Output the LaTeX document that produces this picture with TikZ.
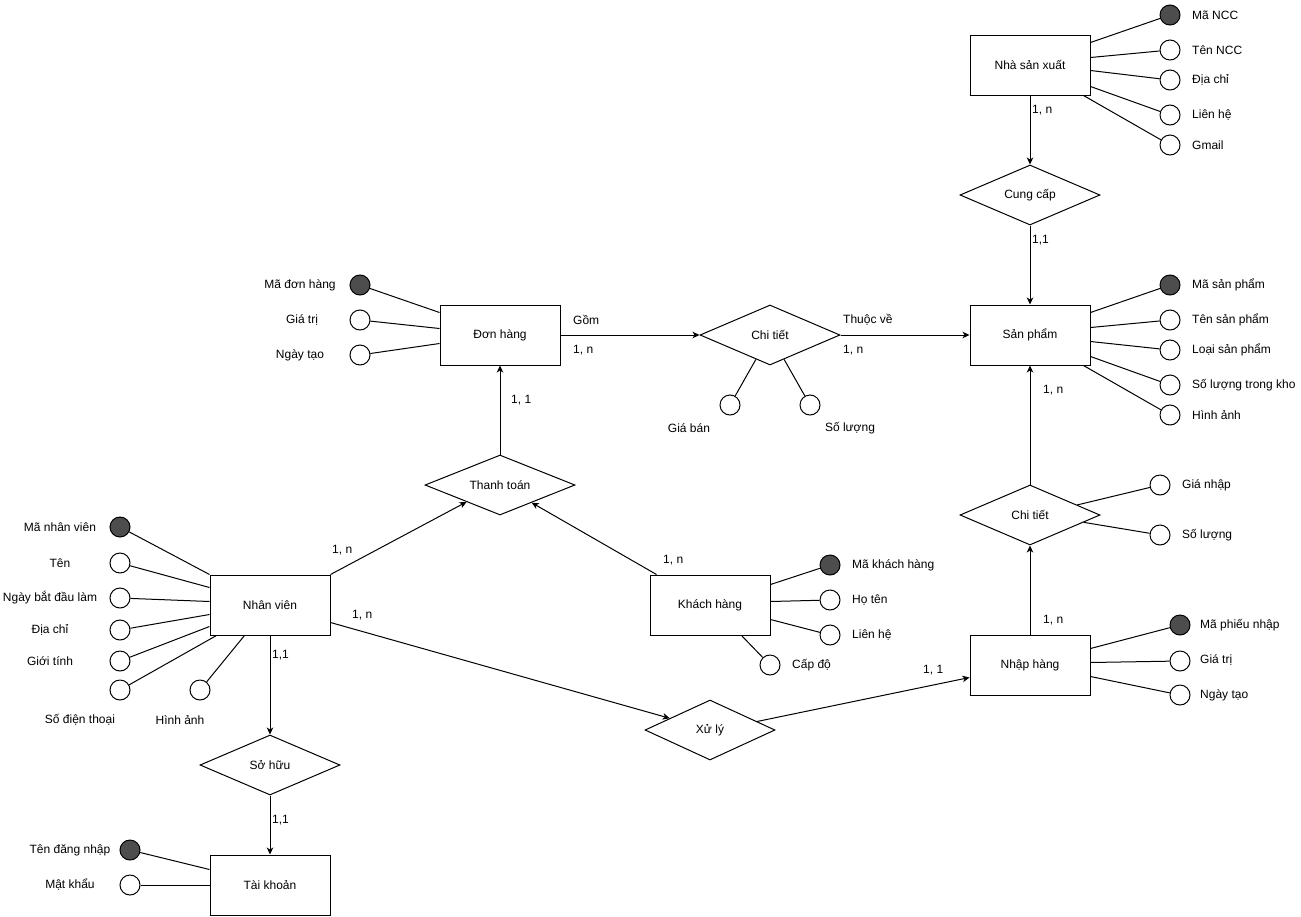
\documentclass[tikz,border=0pt]{standalone}
\usepackage{fontspec}
\setmainfont{Liberation Sans}
\usetikzlibrary{shapes.geometric,arrows.meta,calc}
\definecolor{keyfill}{HTML}{4D4D4D}
\tikzset{
  txt/.style={font=\fontsize{12}{14}\selectfont},
  entity/.style={txt, draw, line width=1pt, fill=white, minimum width=120pt, minimum height=60pt, inner sep=0pt},
  rel/.style={txt, draw, diamond, shape aspect=2.33, line width=1pt, fill=white, minimum width=140pt, minimum height=60pt, inner sep=0pt},
  attr/.style={circle, draw, line width=1pt, fill=white, minimum size=20pt, inner sep=0pt},
  keyattr/.style={attr, fill=keyfill},
  lbl/.style={txt, inner sep=0pt, anchor=west},
  lblc/.style={txt, inner sep=0pt},
  link/.style={line width=1pt},
  rarrow/.style={line width=1pt, -{Stealth[length=7pt,width=6.5pt,inset=2pt]}}
}
\begin{document}
\begin{tikzpicture}[x=1pt,y=-1pt]
\useasboundingbox (0,0) rectangle (1301,916);

% entities
\node[entity] (nsx) at (1030,65) {Nhà sản xuất};
\node[entity] (sp) at (1030,335) {Sản phẩm};
\node[entity] (nh) at (1030,665) {Nhập hàng};
\node[entity] (dh) at (500,335) {Đơn hàng};
\node[entity] (nv) at (270,605) {Nhân viên};
\node[entity] (kh) at (710,605) {Khách hàng};
\node[entity] (tk) at (270,885) {Tài khoản};

% relationships
\node[rel] (cc) at (1030,195) {Cung cấp};
\node[rel] (ct1) at (770,335) {Chi tiết};
\node[rel] (ct2) at (1030,515) {Chi tiết};
\node[rel, minimum width=150pt, shape aspect=2.5] (tt) at (500,485) {Thanh toán};
\node[rel, minimum width=130pt, shape aspect=2.17] (xl) at (710,730) {Xử lý};
\node[rel] (sh) at (270,765) {Sở hữu};

% Nha san xuat attributes
\node[keyattr] (mancc) at (1170,15) {};
\node[attr] (tenncc) at (1170,50) {};
\node[attr] (dcncc) at (1170,80) {};
\node[attr] (lhncc) at (1170,115) {};
\node[attr] (gmail) at (1170,145) {};
\node[lbl] (lmancc) at (1192,15) {Mã NCC};
\node[lbl] (ltenncc) at (1192,50) {Tên NCC};
\node[lbl] (ldcncc) at (1192,80) {Địa chỉ};
\node[lbl] (llhncc) at (1192,115) {Liên hệ};
\node[lbl] (lgmail) at (1192,145) {Gmail};
\draw[link] (mancc) -- ([yshift=-8pt]nsx.north east);
\draw[link] (tenncc) -- ([yshift=-23pt]nsx.north east);
\draw[link] (dcncc) -- ([yshift=-36pt]nsx.north east);
\draw[link] (lhncc) -- ([yshift=-52pt]nsx.north east);
\draw[link] (gmail) -- ([xshift=-7pt]nsx.south east);

% San pham attributes
\node[keyattr] (masp) at (1170,285) {};
\node[attr] (tensp) at (1170,320) {};
\node[attr] (loaisp) at (1170,350) {};
\node[attr] (slkho) at (1170,385) {};
\node[attr] (hinhsp) at (1170,415) {};
\node[lbl] (lmasp) at (1192,285) {Mã sản phẩm};
\node[lbl] (ltensp) at (1192,320) {Tên sản phẩm};
\node[lbl] (lloaisp) at (1192,350) {Loại sản phẩm};
\node[lbl] (lslkho) at (1192,385) {Số lượng trong kho};
\node[lbl] (lhinhsp) at (1192,415) {Hình ảnh};
\draw[link] (masp) -- ([yshift=-8pt]sp.north east);
\draw[link] (tensp) -- ([yshift=-23pt]sp.north east);
\draw[link] (loaisp) -- ([yshift=-37pt]sp.north east);
\draw[link] (slkho) -- ([yshift=-52pt]sp.north east);
\draw[link] (hinhsp) -- ([xshift=-7pt]sp.south east);

% Chi tiet (right) attributes
\node[attr] (gianhap) at (1160,485) {};
\node[attr] (slnhap) at (1160,535) {};
\node[lbl] (lgianhap) at (1182,485) {Giá nhập};
\node[lbl] (lslnhap) at (1182,535) {Số lượng};
\draw[link] (gianhap) -- ($(ct2.north)!0.67!(ct2.east)$);
\draw[link] (slnhap) -- ($(ct2.east)!0.24!(ct2.south)$);

% Nhap hang attributes
\node[keyattr] (mapn) at (1180,625) {};
\node[attr] (gtnh) at (1180,661) {};
\node[attr] (ngaynh) at (1180,695) {};
\node[lbl] (lmapn) at (1200,625) {Mã phiếu nhập};
\node[lbl] (lgtnh) at (1200,660) {Giá trị};
\node[lbl] (lngaynh) at (1200,695) {Ngày tạo};
\draw[link] (mapn) -- ([yshift=-14pt]nh.north east);
\draw[link] (gtnh) -- ([yshift=-28pt]nh.north east);
\draw[link] (ngaynh) -- ([yshift=-42pt]nh.north east);

% Khach hang attributes
\node[keyattr] (makh) at (830,565) {};
\node[attr] (hoten) at (830,600) {};
\node[attr] (lhkh) at (830,635) {};
\node[attr] (capdo) at (770,665) {};
\node[lbl] (lmakh) at (852,565) {Mã khách hàng};
\node[lbl] (lhoten) at (852,600) {Họ tên};
\node[lbl] (llhkh) at (852,635) {Liên hệ};
\node[lbl] (lcapdo) at (792,665) {Cấp độ};
\draw[link] (makh) -- ([yshift=-10pt]kh.north east);
\draw[link] (hoten) -- ([yshift=-27pt]kh.north east);
\draw[link] (lhkh) -- ([yshift=-45pt]kh.north east);
\draw[link] (capdo) -- ([xshift=-29pt]kh.south east);

% Chi tiet (upper) attributes
\node[attr] (giaban) at (730,405) {};
\node[attr] (slban) at (810,405) {};
\node[lblc] (lgiaban) at (689,428) {Giá bán};
\node[lblc] (lslban) at (850,428) {Số lượng};
\draw[link] (giaban) -- ($(ct1.west)!0.8!(ct1.south)$);
\draw[link] (slban) -- ($(ct1.south)!0.2!(ct1.east)$);

% Don hang attributes
\node[keyattr] (madh) at (360,285) {};
\node[attr] (gtdh) at (360,320) {};
\node[attr] (ngaydh) at (360,355) {};
\node[lblc] (lmadh) at (300,285) {Mã đơn hàng};
\node[lblc] (lgtdh) at (302,320) {Giá trị};
\node[lblc] (lngaydh) at (300,355) {Ngày tạo};
\draw[link] (madh) -- ([yshift=-8pt]dh.north west);
\draw[link] (gtdh) -- ([yshift=-24pt]dh.north west);
\draw[link] (ngaydh) -- ([yshift=-39pt]dh.north west);

% Nhan vien attributes
\node[keyattr] (manv) at (120,527) {};
\node[attr] (tennv) at (120,563) {};
\node[attr] (ngaybd) at (120,598) {};
\node[attr] (dcnv) at (120,630) {};
\node[attr] (gioitinh) at (120,661) {};
\node[attr] (sdt) at (120,690) {};
\node[attr] (hinhnv) at (200,690) {};
\node[lblc] (lmanv) at (60,527) {Mã nhân viên};
\node[lblc] (ltennv) at (60,563) {Tên};
\node[lblc] (lngaybd) at (50,598) {Ngày bắt đầu làm};
\node[lblc] (ldcnv) at (50,630) {Địa chỉ};
\node[lblc] (lgioitinh) at (50,661) {Giới tính};
\node[lblc] (lsdt) at (80,720) {Số điện thoại};
\node[lblc] (lhinhnv) at (180,720) {Hình ảnh};
\draw[link] (manv) -- (nv.north west);
\draw[link] (tennv) -- ([yshift=-13pt]nv.north west);
\draw[link] (ngaybd) -- ([yshift=-27pt]nv.north west);
\draw[link] (dcnv) -- ([yshift=-40pt]nv.north west);
\draw[link] (gioitinh) -- ([yshift=-52pt]nv.north west);
\draw[link] (sdt) -- ([xshift=7pt]nv.south west);
\draw[link] (hinhnv) -- ([xshift=35pt]nv.south west);

% Tai khoan attributes
\node[keyattr] (tendn) at (130,850) {};
\node[attr] (matkhau) at (130,885) {};
\node[lblc] (ltendn) at (70,850) {Tên đăng nhập};
\node[lblc] (lmatkhau) at (70,885) {Mật khẩu};
\draw[link] (tendn) -- ([yshift=-15pt]tk.north west);
\draw[link] (matkhau) -- (tk.west);

% relationship connectors
\draw[rarrow] (nsx.south) -- (cc.north);
\draw[rarrow] (cc.south) -- (sp.north);
\draw[rarrow] (ct2.north) -- (sp.south);
\draw[rarrow] (nh.north) -- (ct2.south);
\draw[rarrow] (dh.east) -- (ct1.west);
\draw[rarrow] (ct1.east) -- (sp.west);
\draw[rarrow] (tt.north) -- (dh.south);
\draw[rarrow] (nv.north east) -- ($(tt.west)!0.556!(tt.south)$);
\draw[rarrow] ([xshift=7pt]kh.north west) -- ($(tt.south)!0.42!(tt.east)$);
\draw[rarrow] ([yshift=-48pt]nv.north east) -- ($(xl.west)!0.385!(xl.north)$);
\draw[rarrow] ($(xl.north)!0.72!(xl.east)$) -- ([yshift=-43pt]nh.north west);
\draw[rarrow] (nv.south) -- (sh.north);
\draw[rarrow] (sh.south) -- (tk.north);

% cardinality labels
\node[lbl] (c1) at (1032,110) {1, n};
\node[lbl] (c2) at (1032,240) {1,1};
\node[lbl] (c3) at (1043,390) {1, n};
\node[lbl] (c4) at (1043,620) {1, n};
\node[lbl] (c5) at (923,670) {1, 1};
\node[lbl] (c6) at (573,320) {Gồm};
\node[lbl] (c7) at (573,350) {1, n};
\node[lbl] (c8) at (843,320) {Thuộc về};
\node[lbl] (c9) at (843,350) {1, n};
\node[lbl] (c10) at (511,400) {1, 1};
\node[lbl] (c11) at (332,550) {1, n};
\node[lbl] (c12) at (663,560) {1, n};
\node[lbl] (c13) at (352,615) {1, n};
\node[lbl] (c14) at (272,655) {1,1};
\node[lbl] (c15) at (272,820) {1,1};
\end{tikzpicture}
\end{document}
